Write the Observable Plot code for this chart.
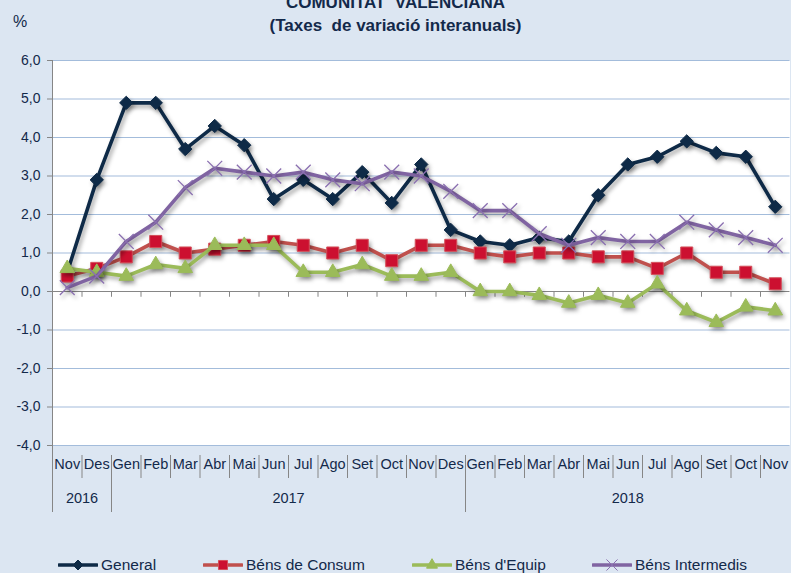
<!DOCTYPE html>
<html>
<head>
<meta charset="utf-8">
<script src="https://cdn.jsdelivr.net/npm/d3@7"></script>
<script src="https://cdn.jsdelivr.net/npm/@observablehq/plot@0.6"></script>
<style>
  body { margin: 0; background: #dce6f2; }
  #wrap { position: relative; width: 791px; height: 573px; overflow: hidden; background: #dce6f2;
          font-family: "Liberation Sans", Arial, sans-serif; color: #13294a; }
  #chart { position: absolute; left: 0; top: 0; }
  .title { position: absolute; left: 0; width: 791px; text-align: center; font-weight: bold; font-size: 17px; line-height: 20px; white-space: pre; }
  #pct { position: absolute; left: 13px; top: 12px; font-size: 16px; line-height: 20px; }
  #legend { position: absolute; left: 0; top: 554px; width: 791px; height: 22px; font-size: 15.5px; }
  .li { position: absolute; top: 0; height: 22px; display: flex; align-items: center; }
  .li svg { display: block; margin-right: 3px; }
</style>
</head>
<body>
<div id="wrap">
  <div id="chart"></div>
  <div class="title" style="top:-7px">COMUNITAT  VALENCIANA</div>
  <div class="title" style="top:16px">(Taxes  de variació interanuals)</div>
  <div id="pct">%</div>
  <div id="legend"></div>
</div>
<script>
// ---- data ----
const months = ["Nov","Des","Gen","Feb","Mar","Abr","Mai","Jun","Jul","Ago","Set","Oct","Nov","Des",
                "Gen","Feb","Mar","Abr","Mai","Jun","Jul","Ago","Set","Oct","Nov"];
const years = ["2016","2017","2018"];
const monthsPerYear = [2, 12, 11];
const seriesNames = ["General","Béns de Consum","Béns d'Equip","Béns Intermedis"];
const general    = [0.5,2.9,4.9,4.9,3.7,4.3,3.8,2.4,2.9,2.4,3.1,2.3,3.3,1.6,1.3,1.2,1.4,1.3,2.5,3.3,3.5,3.9,3.6,3.5,2.2];
const consum     = [0.4,0.6,0.9,1.3,1.0,1.1,1.2,1.3,1.2,1.0,1.2,0.8,1.2,1.2,1.0,0.9,1.0,1.0,0.9,0.9,0.6,1.0,0.5,0.5,0.2];
const equip      = [0.6,0.5,0.4,0.7,0.6,1.2,1.2,1.2,0.5,0.5,0.7,0.4,0.4,0.5,0.0,0.0,-0.1,-0.3,-0.1,-0.3,0.2,-0.5,-0.8,-0.4,-0.5];
const intermedis = [0.1,0.4,1.3,1.8,2.7,3.2,3.1,3.0,3.1,2.9,2.8,3.1,3.0,2.6,2.1,2.1,1.5,1.2,1.4,1.3,1.3,1.8,1.6,1.4,1.2];
const yTicks = [-4,-3,-2,-1,0,1,2,3,4,5,6];

// ---- styles ----
const styles = [
  {line:"#0e2a47", symbol:"diamond2", fill:"#0e2a47", stroke:"#0e2a47", r:6},
  {line:"#c0504d", symbol:"square",   fill:"#cc1030", stroke:"#d4505a", r:6.8},
  {line:"#9bbb59", symbol:"triangle", fill:"#9bbb59", stroke:"#9bbb59", r:5.4},
  {line:"#8064a2", symbol:"times",    fill:"none",    stroke:"#8a6fb0", r:6.8}
];
const values = [general, consum, equip, intermedis];
const rows = values.map((vals, s) => vals.map((v, i) => ({series: seriesNames[s], x: i + 0.5, v})));

// category structure
const yearEnds = d3.cumsum(monthsPerYear);
const yearStarts = yearEnds.map((e, i) => e - monthsPerYear[i]);
const yearBounds = yearEnds.slice(0, -1);
const monthBounds = d3.range(1, months.length).filter(b => !yearBounds.includes(b));
const allBounds = d3.range(1, months.length);

const fmt = d => d.toFixed(1).replace(".", ",");
const axisGray = "#868686";
const textColor = "#13294a";

const marks = [
  Plot.frame({fill: "white", stroke: null}),
  Plot.gridY(yTicks.filter(d => d !== 0), {stroke: "#a3bcdb", strokeOpacity: 1, strokeWidth: 1.2}),
  Plot.axisY({ticks: yTicks, tickFormat: fmt, tickSize: 5, tickPadding: 7, stroke: axisGray, fill: textColor, fontSize: 14, label: null}),
  Plot.ruleY([0], {stroke: axisGray}),
  Plot.ruleX([0], {stroke: axisGray, insetBottom: -67}),
  Plot.ruleX(allBounds, {x: d => d, y1: 0, y2: -0.15, stroke: axisGray}),
  Plot.ruleX(monthBounds, {x: d => d, stroke: axisGray, insetTop: 395, insetBottom: -33}),
  Plot.ruleX(yearBounds, {x: d => d, stroke: axisGray, insetTop: 395, insetBottom: -67}),
  Plot.text(months, {x: (d, i) => i + 0.5, text: d => d, frameAnchor: "bottom", dy: 23, fontSize: 14.5, fill: textColor}),
  Plot.text(years, {x: (d, i) => (yearStarts[i] + yearEnds[i]) / 2, text: d => d, frameAnchor: "bottom", dy: 57, fontSize: 14.5, fill: textColor})
];
rows.forEach((data, s) => {
  const st = styles[s];
  marks.push(Plot.line(data, {x: "x", y: "v", stroke: st.line, strokeWidth: 3.6, strokeLinejoin: "round"}));
  marks.push(Plot.dot(data, {x: "x", y: "v", symbol: () => st.symbol, r: st.r, fill: st.fill, stroke: st.stroke,
                             strokeWidth: st.symbol === "times" ? 1.3 : 1}));
});

const chart = Plot.plot({
  width: 791, height: 573,
  marginLeft: 52, marginRight: 1.5, marginTop: 60, marginBottom: 128,
  style: {background: "transparent", fontFamily: "'Liberation Sans', Arial, sans-serif", color: textColor, overflow: "visible"},
  x: {domain: [0, months.length], axis: null},
  y: {domain: [-4, 6], axis: null},
  symbol: {domain: ["diamond2","square","triangle","times"], range: ["diamond2","square","triangle","times"]},
  marks
});
document.getElementById("chart").appendChild(chart);
chart.querySelectorAll('g[aria-label="line"], g[aria-label="dot"]').forEach(g => {
  g.style.filter = "drop-shadow(2px 3px 2px rgba(0,0,0,0.35))";
});

// ---- legend ----
const legend = document.getElementById("legend");
const legendX = [58, 203, 412, 592];
seriesNames.forEach((name, s) => {
  const st = styles[s];
  const item = document.createElement("div");
  item.className = "li";
  item.style.left = legendX[s] + "px";
  const sym = {diamond2: d3.symbolDiamond2, square: d3.symbolSquare, triangle: d3.symbolTriangle, times: d3.symbolTimes}[st.symbol];
  const path = d3.symbol(sym, Math.PI * (st.r * 0.75) ** 2)();
  item.innerHTML = `<svg width="40" height="22"><line x1="1" x2="39" y1="11" y2="11" stroke="${st.line}" stroke-width="3.6" stroke-linecap="round"/>
    <path d="${path}" transform="translate(20,11)" fill="${st.fill}" stroke="${st.stroke}" stroke-width="1"/></svg><span>${name}</span>`;
  legend.appendChild(item);
});
</script>
</body>
</html>
